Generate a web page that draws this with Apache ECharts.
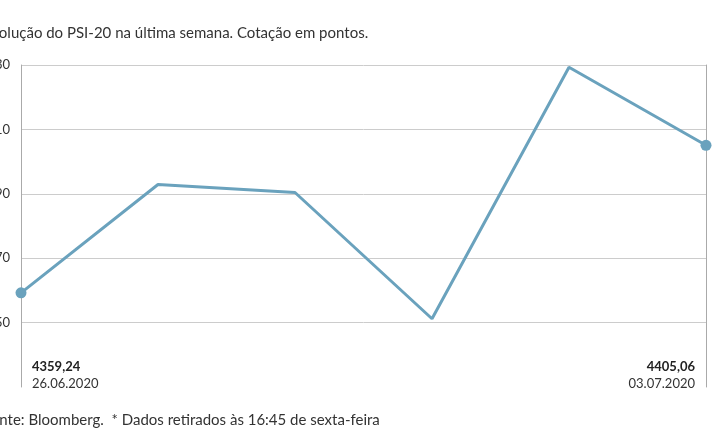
<!DOCTYPE html>
<html><head><meta charset="utf-8">
<script src="https://cdn.jsdelivr.net/npm/echarts@6/dist/echarts.min.js"></script>
<style>html,body{margin:0;padding:0;background:#fff}#c{width:715px;height:445px}</style>
</head><body><div id="c"></div>
<script>
var titleText = 'Evolução do PSI-20 na última semana. Cotação em pontos.';
var footerText = 'Fonte: Bloomberg.  * Dados retirados às 16:45 de sexta-feira';
var categories = ['26.06.2020','29.06.2020','30.06.2020','01.07.2020','02.07.2020','03.07.2020'];
var values = [4359.24, 4392.9, 4390.4, 4351.2, 4429.3, 4405.06];
var yTicks = [4330, 4350, 4370, 4390, 4410, 4430];

var FONT = 'Lato';
var lineColor = '#6aa2bd';
var fmt = function(v){ return v.toFixed(2).replace('.', ','); };
var last = values.length - 1;
var data = values.map(function(v, i){
  return (i === 0 || i === last) ? {value: v, symbol: 'circle', symbolSize: 11} : {value: v, symbol: 'none'};
});

var chart = echarts.init(document.getElementById('c'), null, {renderer: 'canvas'});
chart.setOption({
  animation: false,
  grid: {left: 21, right: 9, top: 65, bottom: 58, containLabel: false, outerBoundsMode: 'none'},
  xAxis: {
    type: 'category', data: categories, boundaryGap: false,
    axisLine: {show: false}, axisTick: {show: false}, axisLabel: {show: false}, splitLine: {show: false}
  },
  yAxis: [{
    type: 'value', min: yTicks[0], max: yTicks[yTicks.length - 1], interval: 20,
    axisLine: {show: true, lineStyle: {color: '#aaaaaa', width: 1}},
    axisTick: {show: false},
    axisLabel: {
      margin: 11, color: '#333', fontFamily: FONT, fontSize: 13, padding: [5, 0, 0, 0],
      formatter: function(v){ return v === yTicks[0] ? '' : String(v); }
    },
    splitLine: {show: true, lineStyle: {color: ['rgba(0,0,0,0)', '#cccccc', '#cccccc', '#cccccc', '#cccccc', '#cccccc'], width: 1}}
  }, {
    type: 'value', position: 'right', min: yTicks[0], max: yTicks[yTicks.length - 1], interval: 20,
    axisLine: {show: true, lineStyle: {color: '#aaaaaa', width: 1}},
    axisTick: {show: false}, axisLabel: {show: false}, splitLine: {show: false}
  }],
  series: [{
    type: 'line', data: data, showAllSymbol: true,
    lineStyle: {color: lineColor, width: 3},
    itemStyle: {color: lineColor},
    z: 5
  }],
  graphic: [
    {type: 'text', left: -17, top: 26, style: {text: titleText, font: '15px ' + FONT, fill: '#333'}},
    {type: 'text', left: 32, top: 360, style: {text: fmt(values[0]), font: 'bold 13px ' + FONT, fill: '#222'}},
    {type: 'text', left: 32, top: 377, style: {text: categories[0], font: '13px ' + FONT, fill: '#333'}},
    {type: 'text', right: 20, top: 360, style: {text: fmt(values[last]), font: 'bold 13px ' + FONT, fill: '#222', textAlign: 'right'}},
    {type: 'text', right: 20, top: 377, style: {text: categories[last], font: '13px ' + FONT, fill: '#333', textAlign: 'right'}},
    {type: 'text', left: -17, top: 413, style: {text: footerText, font: '15px ' + FONT, fill: '#333'}}
  ]
});
</script></body></html>
